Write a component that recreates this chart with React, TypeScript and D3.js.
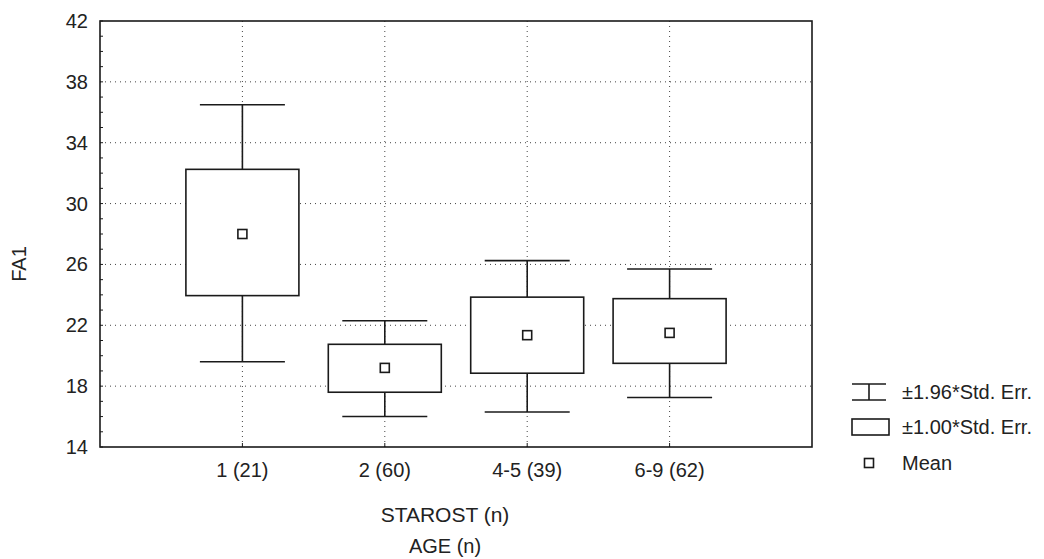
import React from 'react';
import * as d3 from 'd3';

// categories and values
const categories = ['1 (21)', '2 (60)', '4-5 (39)', '6-9 (62)'];
const means = [28.0, 19.2, 21.35, 21.5];
const boxLow = [23.95, 17.6, 18.85, 19.5];
const boxHigh = [32.25, 20.75, 23.85, 23.75];
const whiskLow = [19.6, 16.0, 16.3, 17.25];
const whiskHigh = [36.5, 22.3, 26.25, 25.7];
const yTicks = [14, 18, 22, 26, 30, 34, 38, 42];
const legendItems = ['±1.96*Std. Err.', '±1.00*Std. Err.', 'Mean'];

const W = 1044;
const H = 559;
const FONT = '"Liberation Sans", Arial, sans-serif';

const App = () => {
  const left = 100, right = 812, top = 21, bottom = 447;

  const x = d3.scaleLinear().domain([0, categories.length + 1]).range([left, right]);
  const y = d3.scaleLinear().domain([14, 42]).range([bottom, top]);
  const minor = d3.range(14, 43, 1);

  const boxW = 113;
  const capW = 85;
  const ink = '#1a1a1a';
  const fs = 20;

  return (
    <svg width={W} height={H} style={{ position: 'absolute', left: 0, top: 0, background: '#fff' }} fontFamily={FONT}>
      {/* grid */}
      <g stroke="#444" strokeWidth={1} strokeDasharray="1,4">
        {yTicks.filter(t => t > 14 && t < 42).map(t => (
          <line key={'h' + t} x1={left} x2={right} y1={y(t)} y2={y(t)} />
        ))}
        {categories.map((c, i) => (
          <line key={'v' + c} x1={x(i + 1)} x2={x(i + 1)} y1={top} y2={bottom} />
        ))}
      </g>

      {/* minor ticks */}
      <g stroke={ink} strokeWidth={1}>
        {minor.map(t => (
          <line key={'m' + t} x1={left} x2={left + 3} y1={y(t)} y2={y(t)} />
        ))}
        {categories.map((c, i) => (
          <line key={'bt' + c} x1={x(i + 1)} x2={x(i + 1)} y1={bottom} y2={bottom - 4} />
        ))}
      </g>

      {/* boxes */}
      {categories.map((c, i) => {
        const cx = x(i + 1);
        return (
          <g key={c} stroke={ink} strokeWidth={1.6} fill="none">
            <line x1={cx} x2={cx} y1={y(whiskHigh[i])} y2={y(boxHigh[i])} />
            <line x1={cx} x2={cx} y1={y(boxLow[i])} y2={y(whiskLow[i])} />
            <line x1={cx - capW / 2} x2={cx + capW / 2} y1={y(whiskHigh[i])} y2={y(whiskHigh[i])} />
            <line x1={cx - capW / 2} x2={cx + capW / 2} y1={y(whiskLow[i])} y2={y(whiskLow[i])} />
            <rect x={cx - boxW / 2} y={y(boxHigh[i])} width={boxW} height={y(boxLow[i]) - y(boxHigh[i])} fill="#fff" />
            <rect x={cx - 4.5} y={y(means[i]) - 4.5} width={9} height={9} fill="#fff" />
          </g>
        );
      })}

      {/* frame */}
      <rect x={left} y={top} width={right - left} height={bottom - top} fill="none" stroke={ink} strokeWidth={1.6} />

      {/* y tick labels */}
      <g fontSize={fs} fill="#222" textAnchor="end">
        {yTicks.map(t => (
          <text key={'yl' + t} x={88} y={y(t)} dy="0.35em">{t}</text>
        ))}
      </g>

      {/* x tick labels */}
      <g fontSize={fs} fill="#222" textAnchor="middle">
        {categories.map((c, i) => (
          <text key={'xl' + c} x={x(i + 1)} y={470} dy="0.35em">{c}</text>
        ))}
        <text x={445} y={515} dy="0.35em" fontSize={21}>STAROST (n)</text>
        <text x={445} y={546} dy="0.35em">AGE (n)</text>
      </g>

      <text transform={`translate(19,${y(28) + 30}) rotate(-90)`} fontSize={fs} fill="#222" textAnchor="middle" dy="0.35em">FA1</text>

      {/* legend */}
      <g stroke={ink} strokeWidth={1.6} fill="none">
        <line x1={852} x2={886} y1={384} y2={384} />
        <line x1={852} x2={886} y1={400} y2={400} />
        <line x1={869} x2={869} y1={384} y2={400} />
        <rect x={852} y={419} width={37} height={16} fill="#fff" />
        <rect x={864.5} y={458.5} width={9} height={9} fill="#fff" />
      </g>
      <g fontSize={fs} fill="#222">
        {legendItems.map((l, i) => (
          <text key={l} x={902} y={[392, 427, 463][i]} dy="0.35em">{l}</text>
        ))}
      </g>
    </svg>
  );
};

export default App;
